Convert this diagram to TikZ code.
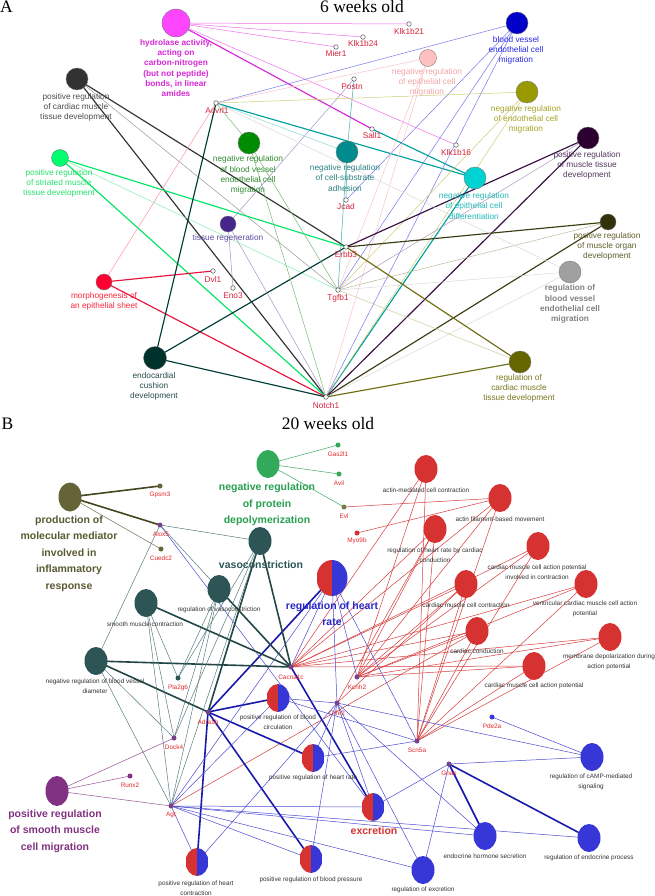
\documentclass[tikz,border=0pt]{standalone}
\usepackage{fontspec}
\setmainfont{Liberation Sans}
\newfontfamily\serifB{Liberation Serif}
\usetikzlibrary{shapes.geometric,backgrounds}
\newcommand\fa{\fontsize{8.3}{10.1}\selectfont}
\newcommand\fbs{\fontsize{6.4}{10}\selectfont}
\newcommand\fbb{\fontsize{10.5}{16.4}\selectfont\bfseries}
\newcommand\ftitle{\serifB\fontsize{17.5}{20}\selectfont}
\newcommand\edges[2]{\foreach \a/\b in {#2} \draw[#1] (\a.center) -- (\b.center);}
% panel A colours
\definecolor{gA}{RGB}{215,35,60}
\definecolor{a1}{RGB}{255,70,255}\definecolor{a1t}{RGB}{215,40,215}
\definecolor{a2}{RGB}{50,50,50}\definecolor{a2t}{RGB}{75,75,75}
\definecolor{a3}{RGB}{0,0,200}\definecolor{a3t}{RGB}{40,40,230}
\definecolor{a4}{RGB}{255,192,192}\definecolor{a4t}{RGB}{245,165,165}
\definecolor{a5}{RGB}{153,153,0}\definecolor{a5t}{RGB}{165,165,40}
\definecolor{a6}{RGB}{45,0,50}\definecolor{a6t}{RGB}{85,55,95}
\definecolor{a7}{RGB}{0,140,0}\definecolor{a7t}{RGB}{50,140,50}
\definecolor{a8}{RGB}{0,140,140}\definecolor{a8t}{RGB}{45,130,130}
\definecolor{a9}{RGB}{0,210,210}\definecolor{a9t}{RGB}{35,185,185}
\definecolor{a10}{RGB}{0,255,110}\definecolor{a10t}{RGB}{40,225,110}
\definecolor{a11}{RGB}{70,40,140}\definecolor{a11t}{RGB}{95,75,160}
\definecolor{a12}{RGB}{50,50,10}\definecolor{a12t}{RGB}{95,95,45}
\definecolor{a13}{RGB}{160,160,160}\definecolor{a13t}{RGB}{130,130,130}
\definecolor{a14}{RGB}{255,0,50}\definecolor{a14t}{RGB}{250,40,60}
\definecolor{a15}{RGB}{0,50,45}\definecolor{a15t}{RGB}{40,75,75}
\definecolor{a16}{RGB}{102,102,0}\definecolor{a16t}{RGB}{120,120,30}
% panel B colours
\definecolor{gB}{RGB}{230,40,40}
\definecolor{cR}{RGB}{215,50,50}
\definecolor{cB}{RGB}{55,55,215}
\definecolor{cT}{RGB}{45,85,85}
\definecolor{cO}{RGB}{100,100,55}\definecolor{cOt}{RGB}{90,90,50}
\definecolor{cG}{RGB}{50,170,90}\definecolor{cGt}{RGB}{40,160,80}
\definecolor{cP}{RGB}{130,50,130}
\definecolor{cBt}{RGB}{40,40,200}
\definecolor{dm}{RGB}{120,65,140}
\tikzset{
 tA/.style={circle, draw=black!55, line width=0.35pt, inner sep=0pt},
 gnA/.style={circle, draw=black!75, fill=white, line width=0.45pt, inner sep=0pt, minimum size=4.6pt},
 labA/.style={align=center, font=\fa, inner sep=0pt},
 glA/.style={font=\fa, text=gA, inner sep=0pt},
 tB/.style={ellipse, inner sep=0pt, minimum width=23pt, minimum height=28pt, draw=none},
 half/.style={tB, path picture={
   \fill[cR] (path picture bounding box.south west) rectangle (path picture bounding box.north);
   \fill[cB] (path picture bounding box.south) rectangle (path picture bounding box.north east);}},
 gnB/.style={circle, inner sep=0pt, minimum size=5pt},
 labB/.style={align=center, font=\fbs, text=black!80, inner sep=0pt},
 glB/.style={font=\fbs, text=gB, inner sep=0pt},
 bigB/.style={align=center, font=\fbb, inner sep=0pt},
 thinA/.style={line width=0.5pt},
 thickA/.style={line width=1.15pt},
 thinB/.style={line width=0.5pt},
 thickB/.style={line width=1.6pt},
}
\begin{document}
\begin{tikzpicture}[x=1pt,y=-1pt]
\useasboundingbox (0,0) rectangle (655,896);
% ---------------- titles
\node[font=\ftitle, anchor=base, inner sep=0pt] (tA) at (6.5,13) {A};
\node[font=\ftitle, anchor=base, inner sep=0pt] (tAt) at (362,12.5) {6 weeks old};
\node[font=\ftitle, anchor=base, inner sep=0pt] (tB) at (7.5,429) {B};
\node[font=\ftitle, anchor=base, inner sep=0pt] (tBt) at (328,429) {20 weeks old};
% ---------------- panel A terms
\node[tA, minimum size=28pt, fill=a1] (hyd) at (176,23) {};
\node[tA, minimum size=22pt, fill=a2] (cardpos) at (77,79) {};
\node[tA, minimum size=22pt, fill=a3] (bvecm) at (517,23) {};
\node[tA, minimum size=17pt, fill=a4] (nrecm) at (428,58) {};
\node[tA, minimum size=22pt, fill=a5] (nrendo) at (527,92) {};
\node[tA, minimum size=22pt, fill=a6] (prmtd) at (588,138) {};
\node[tA, minimum size=22pt, fill=a7] (nrbv) at (249,143) {};
\node[tA, minimum size=22pt, fill=a8] (nrcsa) at (347,152) {};
\node[tA, minimum size=22pt, fill=a9] (nrecd) at (475,178) {};
\node[tA, minimum size=17pt, fill=a10] (prsm) at (60,158) {};
\node[tA, minimum size=16pt, fill=a11] (treg) at (228,224) {};
\node[tA, minimum size=16pt, fill=a12] (prmod) at (608,222) {};
\node[tA, minimum size=22pt, fill=a13] (rbv) at (570,272) {};
\node[tA, minimum size=16pt, fill=a14] (morph) at (104,282) {};
\node[tA, minimum size=23pt, fill=a15] (endo) at (155,358) {};
\node[tA, minimum size=22pt, fill=a16] (rcmtd) at (520,362) {};
% panel A term labels
\node[labA, text=a1t, font=\fa\bfseries] (l-hyd) at (176,68) {hydrolase activity,\\acting on\\carbon-nitrogen\\(but not peptide)\\bonds, in linear\\amides};
\node[labA, text=a2t] (l-cardpos) at (76,107) {positive regulation\\of cardiac muscle\\tissue development};
\node[labA, text=a10t] (l-prsm) at (59,183) {positive regulation\\of striated muscle\\tissue development};
\node[labA, text=a7t] (l-nrbv) at (248,175) {negative regulation\\of blood vessel\\endothelial cell\\migration};
\node[labA, text=a3t] (l-bvecm) at (516,50) {blood vessel\\endothelial cell\\migration};
\node[labA, text=a4t] (l-nrecm) at (427,82) {negative regulation\\of epithelial cell\\migration};
\node[labA, text=a5t] (l-nrendo) at (526,119) {negative regulation\\of endothelial cell\\migration};
\node[labA, text=a6t] (l-prmtd) at (587,165) {positive regulation\\of muscle tissue\\development};
\node[labA, text=a8t] (l-nrcsa) at (345,178) {negative regulation\\of cell-substrate\\adhesion};
\node[labA, text=a9t] (l-nrecd) at (474,206) {negative regulation\\of epithelial cell\\differentiation};
\node[labA, text=a11t] (l-treg) at (228,238) {tissue regeneration};
\node[labA, text=a14t] (l-morph) at (104,301.5) {morphogenesis of\\an epithelial sheet};
\node[labA, text=a15t] (l-endo) at (154,386) {endocardial\\cushion\\development};
\node[labA, text=a12t] (l-prmod) at (607,246) {positive regulation\\of muscle organ\\development};
\node[labA, text=a13t, font=\fa\bfseries] (l-rbv) at (570,304) {regulation of\\blood vessel\\endothelial cell\\migration};
\node[labA, text=a16t] (l-rcmtd) at (519,388.5) {regulation of\\cardiac muscle\\tissue development};
% panel A genes
\node[gnA] (k21) at (409,24) {};   \node[glA] (l-k21) at (409,32) {Klk1b21};
\node[gnA] (k24) at (363,37) {};   \node[glA] (l-k24) at (363,44) {Klk1b24};
\node[gnA] (mier) at (336,47) {};  \node[glA] (l-mier) at (336,54) {Mier1};
\node[gnA] (postn) at (354,79) {}; \node[glA] (l-postn) at (352,87) {Postn};
\node[gnA] (acv) at (216,103) {};  \node[glA] (l-acv) at (217,111) {Acvrl1};
\node[gnA] (sall) at (372,129) {}; \node[glA] (l-sall) at (372,136) {Sall1};
\node[gnA] (k16) at (456,145) {};  \node[glA] (l-k16) at (456,153) {Klk1b16};
\node[gnA] (jcad) at (346,200) {}; \node[glA] (l-jcad) at (346,207) {Jcad};
\node[gnA] (erbb) at (346,247) {}; \node[glA] (l-erbb) at (346,255) {Erbb3};
\node[gnA] (dvl) at (213,271) {};  \node[glA] (l-dvl) at (213,279) {Dvl1};
\node[gnA] (eno) at (233,288) {};  \node[glA] (l-eno) at (233,296) {Eno3};
\node[gnA] (tgfb) at (338,290) {}; \node[glA] (l-tgfb) at (338,298) {Tgfb1};
\node[gnA] (notch) at (326,397) {};\node[glA] (l-notch) at (326,406) {Notch1};
% ---------------- panel B terms
\node[tB, fill=cG] (nrpd) at (268,464) {};
\node[tB, fill=cO, minimum height=29pt] (pmm) at (70,497) {};
\node[tB, fill=cT] (vaso) at (260,541) {};
\node[tB, fill=cT] (rvaso) at (219,589) {};
\node[tB, fill=cT] (smc) at (146,603) {};
\node[tB, fill=cT] (nrbvd) at (96,661) {};
\node[half, minimum width=31pt, minimum height=36pt] (rhr) at (332,578) {};
\node[half] (prbc) at (278,698) {};
\node[half] (prhr) at (313,758) {};
\node[half] (excr) at (373,807) {};
\node[half] (prhc) at (197,862) {};
\node[half] (prbp) at (311,859) {};
\node[tB, fill=cB] (rexc) at (423,870) {};
\node[tB, fill=cB] (ehs) at (485,836) {};
\node[tB, fill=cB] (rep) at (589,838) {};
\node[tB, fill=cB] (rcamp) at (592,757) {};
\node[tB, fill=cR] (amcc) at (426,469) {};
\node[tB, fill=cR] (afbm) at (500,498) {};
\node[tB, fill=cR] (rhrcc) at (435,529) {};
\node[tB, fill=cR] (cmcapic) at (538,546) {};
\node[tB, fill=cR] (cmcc) at (466,584) {};
\node[tB, fill=cR] (vcmcap) at (586,584) {};
\node[tB, fill=cR] (cc) at (477,631) {};
\node[tB, fill=cR] (mdap) at (610,637) {};
\node[tB, fill=cR] (cmcap) at (534,666) {};
\node[tB, fill=cP, minimum height=30pt] (prsmcm) at (57,791) {};
% panel B term labels
\node[bigB, text=cGt] (l-nrpd) at (267,504.5) {negative regulation\\of protein\\depolymerization};
\node[bigB, text=cOt] (l-pmm) at (69,553.5) {production of\\molecular mediator\\involved in\\inflammatory\\response};
\node[bigB, text=cT] (l-vaso) at (261,565) {vasoconstriction};
\node[bigB, text=cBt] (l-rhr) at (332,613.5) {regulation of heart\\rate};
\node[bigB, text=cR] (l-excr) at (374,831) {excretion};
\node[bigB, text=cP] (l-prsmcm) at (55,831) {positive regulation\\of smooth muscle\\cell migration};
\node[labB] (l-rvaso) at (219,610) {regulation of vasoconstriction};
\node[labB] (l-smc) at (145,624) {smooth muscle contraction};
\node[labB] (l-nrbvd) at (95,686) {negative regulation of blood vessel\\diameter};
\node[labB] (l-prbc) at (278,722.5) {positive regulation of blood\\circulation};
\node[labB] (l-prhr) at (313,778) {positive regulation of heart rate};
\node[labB] (l-prhc) at (196,888) {positive regulation of heart\\contraction};
\node[labB] (l-prbp) at (311,880) {positive regulation of blood pressure};
\node[labB] (l-rexc) at (423,890) {regulation of excretion};
\node[labB] (l-ehs) at (485,856) {endocrine hormone secretion};
\node[labB] (l-rep) at (589,858) {regulation of endocrine process};
\node[labB] (l-rcamp) at (591,782) {regulation of cAMP-mediated\\signaling};
\node[labB] (l-amcc) at (426,490) {actin-mediated cell contraction};
\node[labB] (l-afbm) at (500,519) {actin filament-based movement};
\node[labB] (l-rhrcc) at (435,555) {regulation of heart rate by cardiac\\conduction};
\node[labB] (l-cmcapic) at (537,572) {cardiac muscle cell action potential\\involved in contraction};
\node[labB] (l-cmcc) at (466,605) {cardiac muscle cell contraction};
\node[labB] (l-vcmcap) at (585,609) {ventricular cardiac muscle cell action\\potential};
\node[labB] (l-cc) at (477,651) {cardiac conduction};
\node[labB] (l-mdap) at (609,662) {membrane depolarization during\\action potential};
\node[labB] (l-cmcap) at (534,686) {cardiac muscle cell action potential};
% panel B genes
\node[gnB, fill=cG] (gas) at (338,445) {};    \node[glB] (l-gas) at (338,454) {Gas2l1};
\node[gnB, fill=cG] (avil) at (339,474) {};   \node[glB] (l-avil) at (339,483) {Avil};
\node[gnB, fill=cG!60!cR] (evl) at (344,507) {};    \node[glB] (l-evl) at (344,516) {Evl};
\node[gnB, fill=cR] (myo) at (357,533) {};    \node[glB] (l-myo) at (357,541) {Myo9b};
\node[gnB, fill=cO] (gpsm) at (160,486) {};   \node[glB] (l-gpsm) at (160,495) {Gpsm3};
\node[gnB, fill=dm] (alox) at (160,525) {};   \node[glB] (l-alox) at (161,534) {Alox5};
\node[gnB, fill=cO] (cuedc) at (161,549) {};  \node[glB] (l-cuedc) at (161,558) {Cuedc2};
\node[gnB, fill=dm] (cac) at (291,667) {};    \node[glB] (l-cac) at (291,677) {Cacna1c};
\node[gnB, fill=dm] (kcn) at (357,677) {};    \node[glB] (l-kcn) at (357,687) {Kcnh2};
\node[gnB, fill=cT] (pla) at (178,678) {};    \node[glB] (l-pla) at (178,688) {Pla2g6};
\node[gnB, fill=dm] (adr) at (208,712) {};    \node[glB] (l-adr) at (208,722) {Adra1b};
\node[gnB, fill=dm] (chr) at (337,703) {};    \node[glB] (l-chr) at (337,713) {Crhr2};
\node[gnB, fill=dm] (dock) at (174,738) {};   \node[glB] (l-dock) at (174,747) {Dock4};
\node[gnB, fill=cP] (runx) at (130,776) {};   \node[glB] (l-runx) at (130,785) {Runx2};
\node[gnB, fill=dm] (agt) at (171,806) {};    \node[glB] (l-agt) at (171,815) {Agt};
\node[gnB, fill=dm] (scn) at (417,741) {};    \node[glB] (l-scn) at (417,750) {Scn5a};
\node[gnB, fill=dm] (gnas) at (449,764) {};   \node[glB] (l-gnas) at (449,773) {Gnas};
\node[gnB, fill=cB] (pde) at (492,717) {};    \node[glB] (l-pde) at (492,726) {Pde2a};
% ---------------- connectors
\begin{scope}[on background layer]
\fill[white] (0,0) rectangle (655,896);
% panel A
\edges{thinA, color={rgb,255:red,240;green,110;blue,240}}{hyd/k21,hyd/k24,hyd/mier,hyd/k16}
\edges{thickA, color=a1t}{hyd/sall}
\edges{thickA, color=a2}{cardpos/erbb,cardpos/notch}
\edges{thinA, color=black!40}{cardpos/tgfb}
\edges{thickA, color={rgb,255:red,0;green,230;blue,100}}{prsm/erbb,prsm/notch}
\edges{thinA, color={rgb,255:red,130;green,240;blue,175}}{prsm/tgfb}
\edges{thickA, color={rgb,255:red,230;green,20;blue,60}}{morph/dvl,morph/notch}
\edges{thinA, color={rgb,255:red,250;green,150;blue,160}}{morph/acv}
\edges{thickA, color={rgb,255:red,0;green,60;blue,55}}{endo/acv,endo/erbb,endo/notch}
\edges{thinA, color={rgb,255:red,160;green,150;blue,200}}{treg/postn,treg/eno,treg/notch}
\edges{thinA, color={rgb,255:red,120;green,185;blue,120}}{nrbv/acv,nrbv/tgfb,nrbv/notch}
\edges{thinA, color={rgb,255:red,60;green,175;blue,175}}{nrcsa/postn,nrcsa/jcad,nrcsa/tgfb}
\edges{thinA, color={rgb,255:red,140;green,215;blue,215}}{nrcsa/acv}
\edges{thickA, color={rgb,255:red,0;green,160;blue,160}}{nrecd/acv,nrecd/sall,nrecd/notch}
\edges{thinA, color={rgb,255:red,120;green,120;blue,235}}{bvecm/acv,bvecm/jcad,bvecm/tgfb,bvecm/notch}
\edges{thinA, color={rgb,255:red,250;green,195;blue,195}}{nrecm/acv,nrecm/tgfb,nrecm/notch}
\edges{thinA, color={rgb,255:red,205;green,205;blue,120}}{nrendo/acv,nrendo/tgfb,nrendo/notch}
\edges{thickA, color={rgb,255:red,55;green,15;blue,65}}{prmtd/erbb,prmtd/notch}
\edges{thinA, color={rgb,255:red,175;green,155;blue,185}}{prmtd/tgfb}
\edges{thickA, color={rgb,255:red,60;green,60;blue,20}}{prmod/erbb,prmod/notch}
\edges{thinA, color={rgb,255:red,185;green,185;blue,155}}{prmod/tgfb}
\edges{thinA, color=black!15}{rbv/acv,rbv/tgfb,rbv/notch}
\edges{thickA, color={rgb,255:red,110;green,110;blue,20}}{rcmtd/erbb,rcmtd/notch}
\edges{thinA, color={rgb,255:red,205;green,205;blue,160}}{rcmtd/tgfb}
% panel B
\edges{thinB, color={rgb,255:red,60;green,170;blue,100}}{nrpd/gas,nrpd/avil,nrpd/evl}
\edges{thickB, color={rgb,255:red,70;green,70;blue,30}}{pmm/gpsm,pmm/alox}
\edges{thinB, color={rgb,255:red,110;green,110;blue,70}}{pmm/cuedc}
\edges{thinB, color={rgb,255:red,215;green,60;blue,60}}{afbm/evl,afbm/myo,
  amcc/cac,afbm/cac,rhrcc/cac,cmcapic/cac,cmcc/cac,vcmcap/cac,cc/cac,mdap/cac,cmcap/cac,
  amcc/kcn,afbm/kcn,rhrcc/kcn,cmcapic/kcn,cmcc/kcn,vcmcap/kcn,cc/kcn,mdap/kcn,cmcap/kcn,
  amcc/scn,afbm/scn,rhrcc/scn,cmcapic/scn,cmcc/scn,vcmcap/scn,cc/scn,mdap/scn,cmcap/scn,
  chr/rhrcc,chr/cmcc,agt/cc}
\edges{thickB, color={rgb,255:red,25;green,25;blue,170}}{adr/rhr,adr/prbc,adr/prhr,adr/prhc,adr/prbp,cac/excr,gnas/ehs,gnas/rep}
\edges{thinB, color={rgb,255:red,75;green,75;blue,210}}{rhr/cac,rhr/kcn,rhr/scn,rhr/chr,rhr/agt,
  chr/rcamp,chr/ehs,chr/rexc,chr/excr,chr/prhr,chr/prbc,chr/prbp,chr/prhc,
  scn/prhr,scn/prbc,gnas/rcamp,gnas/excr,gnas/rexc,pde/rcamp,
  agt/excr,agt/rep,agt/ehs,agt/rexc,agt/prbp,agt/prhc,agt/prbc,alox/excr}
\edges{thickB, color={rgb,255:red,35;green,70;blue,70}}{vaso/adr,vaso/cac,rvaso/cac,smc/cac,nrbvd/cac,nrbvd/adr}
\edges{thinB, line width=0.45pt, color={rgb,255:red,75;green,115;blue,115}}{alox/vaso,alox/rvaso,alox/nrbvd,vaso/agt,vaso/dock,vaso/pla,
  rvaso/agt,rvaso/dock,rvaso/pla,smc/agt,smc/dock,smc/pla,nrbvd/agt,nrbvd/dock}
\edges{thinB, color={rgb,255:red,150;green,80;blue,150}}{prsmcm/dock,prsmcm/runx,prsmcm/agt}
\end{scope}
\end{tikzpicture}
\end{document}
